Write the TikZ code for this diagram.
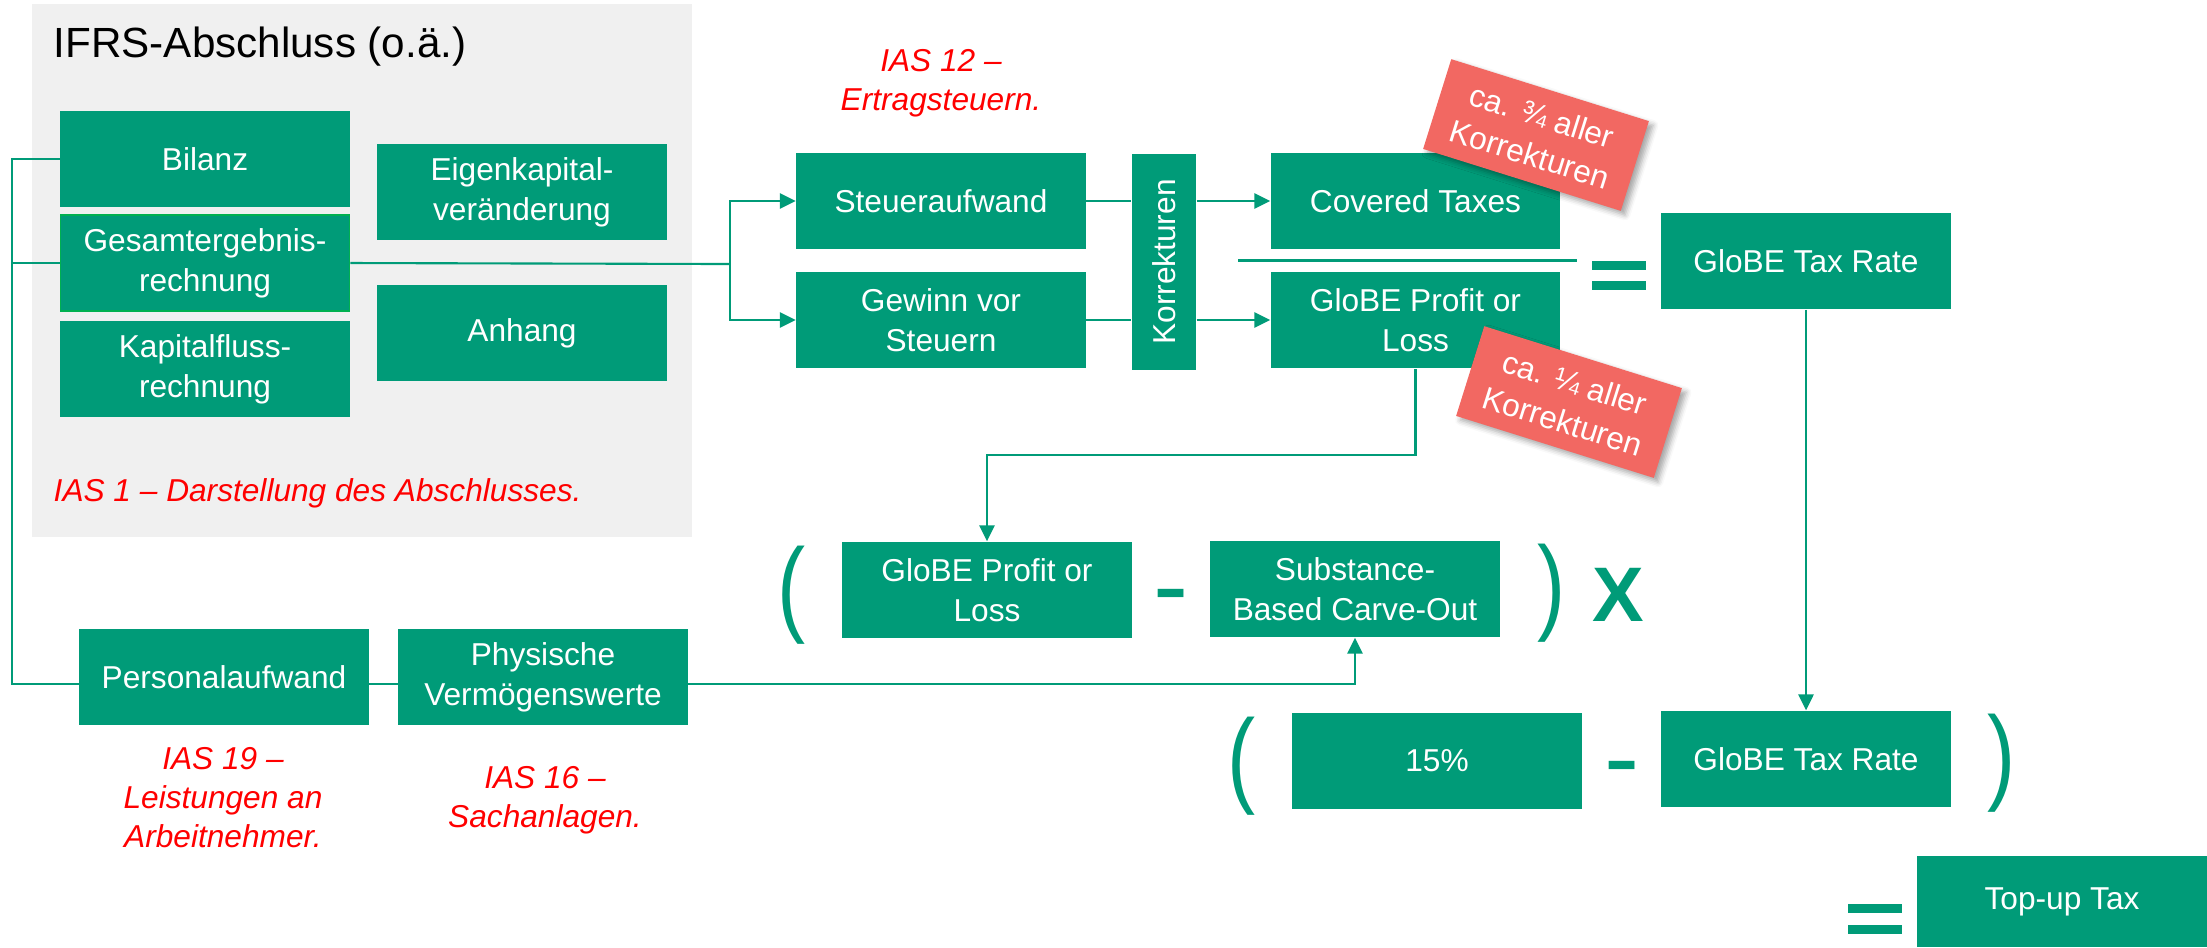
\documentclass[tikz,border=0pt]{standalone}
\usepackage{fontspec}
\setmainfont{Liberation Sans}
\usepackage{xcolor}
\usepackage{graphicx}
\usetikzlibrary{positioning, calc, arrows.meta, shadows.blur}

\definecolor{gbgreen}{RGB}{0,155,120}
\definecolor{panelgray}{RGB}{240,240,240}
\definecolor{tagred}{RGB}{242,104,98}
\definecolor{framegreen}{RGB}{0,176,80}

% slim parentheses around the formula terms
\newcommand{\slimparen}[1]{\scalebox{0.8}[1]{#1}}

\begin{document}
\begin{tikzpicture}[x=0.01cm, y=-0.01cm,
    box/.style={fill=gbgreen, text=white, minimum width=2.89cm, minimum height=0.96cm,
        align=center, inner sep=0pt, font=\fontsize{9}{11.4}\selectfont},
    note/.style={text=red, align=center, inner sep=0pt, font=\fontsize{9}{11}\selectfont\itshape},
    tag/.style={fill=tagred, text=white, minimum width=2.07cm, minimum height=0.94cm,
        align=center, inner sep=0pt, rotate=-17.4, font=\fontsize{9}{11.4}\selectfont,
        blur shadow={shadow xshift=1.2pt, shadow yshift=-1.2pt, shadow blur radius=1.5pt, shadow opacity=35}},
    sym/.style={text=gbgreen, inner sep=0pt, font=\fontsize{30}{30}\selectfont},
    bar/.style={fill=gbgreen},
    wire/.style={draw=gbgreen, line width=0.6pt},
    arr/.style={wire, -{Triangle[length=4.5pt, width=4.3pt]}}]

    \useasboundingbox (0,0) rectangle (2207,947);

    % Grey panel with the parts of the financial statements
    \node[fill=panelgray, minimum width=6.6cm, minimum height=5.33cm, inner sep=0pt] (panel) at (362,270.5) {};
    \node[anchor=base west, inner sep=0pt, font=\fontsize{12}{14}\selectfont] (title) at (53,57) {IFRS-Abschluss (o.ä.)};

    % Statement boxes
    \node[box] (bilanz) at (205,159) {Bilanz};
    \node[box, draw=framegreen, line width=0.5pt] (gesamt) at (205,263) {Gesamtergebnis-\\rechnung};
    \node[box] (kapital) at (205,369) {Kapitalfluss-\\rechnung};
    \node[box] (eigenkapital) at (522,192) {Eigenkapital-\\veränderung};
    \node[box] (anhang) at (522,333) {Anhang};
    \node[note, anchor=base west] (ias1) at (53,501) {IAS 1 – Darstellung des Abschlusses.};

    % Tax expense and profit before tax
    \node[note] (ias12) at (941,83) {IAS 12 –\\Ertragsteuern.};
    \node[box] (steuer) at (941,201) {Steueraufwand};
    \node[box] (gewinn) at (941,320) {Gewinn vor\\Steuern};
    \node[box, rotate=90, minimum width=2.16cm, minimum height=0.64cm] (korr) at (1164,262) {Korrekturen};

    % GloBE figures and the effective rate
    \node[box] (covered) at (1415.5,201) {Covered Taxes};
    \node[box] (globe1) at (1415.5,320) {GloBE Profit or\\Loss};
    \node[box] (taxrate1) at (1806,261) {GloBE Tax Rate};
    % equals sign
    \fill[bar] (1592,261) rectangle (1646,270);
    \fill[bar] (1592,281) rectangle (1646,290);

    % Share of the adjustments
    \node[tag] (share3) at (1536,135) {ca. ¾ aller\\Korrekturen};
    \node[tag] (share1) at (1569,402) {ca. ¼ aller\\Korrekturen};

    % Excess profit term
    \node[sym] (open1) at (792,595.5) {\slimparen{(}};
    \node[box] (globe2) at (987,590) {GloBE Profit or\\Loss};
    \node[sym, anchor=base] (minus1) at (1171,621) {-};
    \node[box] (carve) at (1355,589) {Substance-\\Based Carve-Out};
    \node[sym] (close1) at (1551.5,593) {\slimparen{)}};
    \node[sym, font=\fontsize{22}{22}\selectfont\bfseries, anchor=base] (times) at (1618.5,621) {X};

    % Top-up rate term
    \node[sym] (open2) at (1242,766) {\slimparen{(}};
    \node[box] (pct) at (1437,761) {15\%};
    \node[sym, anchor=base] (minus2) at (1622,793) {-};
    \node[box] (taxrate2) at (1806,759) {GloBE Tax Rate};
    \node[sym] (close2) at (2001.5,763) {\slimparen{)}};

    % Result
    \fill[bar] (1848,904) rectangle (1902,913);
    \fill[bar] (1848,925) rectangle (1902,934);
    \node[box, minimum height=0.91cm] (topup) at (2062,901.5) {Top-up Tax};

    % Substance items below the panel
    \node[box] (personal) at (224,677) {Personalaufwand};
    \node[box] (physisch) at (543,677) {Physische\\Vermögenswerte};
    \node[note] (ias19) at (223,797.5) {IAS 19 –\\Leistungen an\\Arbeitnehmer.};
    \node[note] (ias16) at (545,800) {IAS 16 –\\Sachanlagen.};

    % Connectors
    \coordinate (lft) at (12,159);
    \coordinate (split) at (730,264);
    \draw[wire] (bilanz.west) -- (lft) |- ([yshift=-2pt]personal.west);
    \draw[wire] (lft |- gesamt) -- (gesamt.west);
    \draw[wire] (gesamt.east) -- (split);
    \draw[arr] (split) |- (steuer);
    \draw[arr] (split) |- (gewinn);
    \draw[wire] (steuer.east) -- (steuer.east -| korr.north);
    \draw[arr] (steuer.east -| korr.south) -- (covered.west);
    \draw[wire] (gewinn.east) -- (gewinn.east -| korr.north);
    \draw[arr] (gewinn.east -| korr.south) -- (globe1.west);
    \draw[arr] (globe1.south) -- ++(0,86) -| (globe2.north);
    \draw[arr] (taxrate1.south) -- (taxrate2.north);
    \draw[wire] ([yshift=-2pt]personal.east) -- ([yshift=-2pt]physisch.west);
    \draw[arr] ([yshift=-2pt]physisch.east) -| (carve.south);
    % fraction bar
    \draw[wire] ($(covered.south west)!0.5!(globe1.north west)+(-32,0)$) -- ($(covered.south east)!0.5!(globe1.north east)+(16,0)$);

\end{tikzpicture}
\end{document}
